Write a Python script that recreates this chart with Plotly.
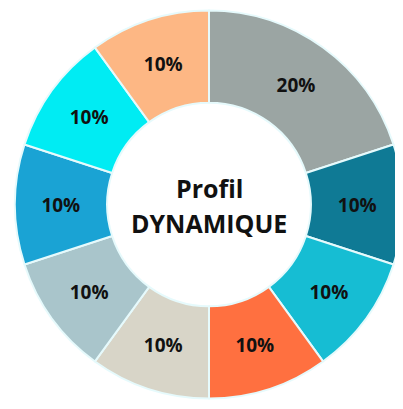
import plotly.graph_objects as go

labels = ["Gris", "Bleu pétrole", "Turquoise", "Orange", "Beige",
          "Gris bleuté", "Bleu", "Cyan", "Pêche"]
values = [20, 10, 10, 10, 10, 10, 10, 10, 10]
colors = ["#9BA5A3", "#0F7A95", "#16BDD3", "#FF7040", "#D8D5C8",
          "#A9C5CB", "#1AA3D4", "#00ECF3", "#FDB784"]
center_title = ["Profil", "DYNAMIQUE"]

W, H = 395, 393
dom_x = [7 / W, 1]
cx = (dom_x[0] + dom_x[1]) / 2

fig = go.Figure(go.Pie(
    labels=labels,
    values=values,
    sort=False,
    direction="clockwise",
    rotation=0,
    hole=0.525,
    marker=dict(colors=colors, line=dict(color="#E6FAFC", width=2)),
    textinfo="percent",
    textposition="inside",
    insidetextorientation="horizontal",
    textfont=dict(family="Open Sans", size=19, color="#111111", weight="bold"),
    showlegend=False,
    domain=dict(x=dom_x, y=[0, 1]),
))

for line, shift in zip(center_title, [17, -18]):
    fig.add_annotation(
        text="<b>" + line + "</b>",
        x=cx, y=0.5, xref="paper", yref="paper",
        yshift=shift,
        showarrow=False,
        font=dict(family="Open Sans", size=25, color="#111111"),
    )

fig.update_layout(
    width=W, height=H,
    margin=dict(l=0, r=0, t=0, b=0),
    paper_bgcolor="white",
    plot_bgcolor="white",
)

fig.write_html("out.html")
